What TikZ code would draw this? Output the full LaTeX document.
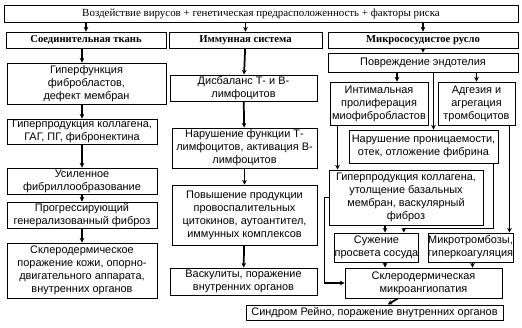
\documentclass[tikz,border=0pt]{standalone}
\usepackage{fontspec}
\setmainfont{Liberation Serif}
\newfontfamily\arialfont{Liberation Sans}
\usetikzlibrary{arrows.meta}

\begin{document}
\begin{tikzpicture}[x=0.75pt, y=-0.75pt,
  box/.style={draw, line width=0.7pt, inner sep=0pt, align=center,
              font=\arialfont\fontsize{8.2}{9.75}\selectfont},
  head/.style={draw, line width=0.7pt, inner sep=0pt,
               font=\bfseries\fontsize{8}{9.5}\selectfont},
  link/.style={-{Stealth[length=3.5pt, width=3.5pt]}, line width=1.3pt}]

  \useasboundingbox (0,0) rectangle (522,328);

  % ── common cause and the three headers ───────────────────────────────────

  \node[head, font=\fontsize{8.2}{9.5}\selectfont,
        minimum width=385.5pt, minimum height=12.75pt] (cause) at (261, 13.5)
    {Воздействие вирусов + генетическая предрасположенность + факторы риска};

  \node[head, minimum width=120pt, minimum height=12pt] (tissue) at (86, 40)
    {Соединительная ткань};
  \node[head, minimum width=114.75pt, minimum height=12pt] (immune) at (245.5, 40)
    {Иммунная система};
  \node[head, minimum width=142.5pt, minimum height=12pt] (micro) at (423, 40)
    {Микрососудистое русло};

  \draw[link] (cause.south -| tissue.north) -- (tissue.north);
  \draw[link] (cause.south -| immune.north) -- (immune.north);
  \draw[link] (cause.south -| micro.north) -- (micro.north);

  % ── connective tissue column ─────────────────────────────────────────────

  \node[box, minimum width=119.25pt, minimum height=30.75pt] (fibro) at (86.5, 83.5)
    {Гиперфункция\\фибробластов,\\дефект мембран};
  \node[box, minimum width=112.5pt, minimum height=18.75pt] (collagen) at (82, 131.5)
    {Гиперпродукция коллагена,\\ГАГ, ПГ, фибронектина};
  \node[box, minimum width=112.5pt, minimum height=19.5pt] (fibril) at (82, 181)
    {Усиленное\\фибриллообразование};
  \node[box, minimum width=112.5pt, minimum height=19.5pt] (fibrosis) at (82, 215)
    {Прогрессирующий\\генерализованный фиброз};
  \node[box, minimum width=112.5pt, minimum height=41.25pt] (skin) at (82, 270.5)
    {Склеродермическое\\поражение кожи, опорно-\\двигательного аппарата,\\внутренних органов};

  \draw[link] (tissue.south -| collagen.north) -- (fibro.north -| collagen.north);
  \draw[link] (fibro.south -| collagen.north) -- (collagen.north);
  \draw[link] (collagen) -- (fibril);
  \draw[link] (fibril) -- (fibrosis);
  \draw[link] (fibrosis) -- (skin);

  % ── immune system column ─────────────────────────────────────────────────

  \node[box, minimum width=110.25pt, minimum height=19.5pt] (imbal) at (243.5, 88)
    {Дисбаланс Т- и В-\\лимфоцитов};
  \node[box, minimum width=108.75pt, minimum height=30pt] (tcell) at (244.5, 148)
    {Нарушение функции Т-\\лимфоцитов, активация В-\\лимфоцитов};
  \node[box, minimum width=108.75pt, minimum height=45pt] (cyto) at (244.5, 215)
    {Повышение продукции\\провоспалительных\\цитокинов, аутоантител,\\иммунных комплексов};
  \node[box, minimum width=110.25pt, minimum height=20.25pt] (vascul) at (243.5, 281.5)
    {Васкулиты, поражение\\внутренних органов};

  \draw[link] (immune) -- (imbal);
  \draw[link] (imbal) -- (tcell);
  \draw[link] (tcell) -- (cyto);
  \draw[link] (cyto) -- (vascul);

  % ── microvascular column ─────────────────────────────────────────────────

  \node[box, minimum width=142.5pt, minimum height=14.25pt] (endo) at (423, 62.5)
    {Повреждение эндотелия};
  \node[box, minimum width=73.5pt, minimum height=32.25pt] (intima) at (379, 103.5)
    {Интимальная\\пролиферация\\миофибробластов};
  \node[box, minimum width=57.75pt, minimum height=32.25pt] (platelet) at (476.5, 103.5)
    {Адгезия и\\агрегация\\тромбоцитов};
  \node[box, minimum width=111.75pt, minimum height=24.75pt] (perm) at (423.5, 146.5)
    {Нарушение проницаемости,\\отек, отложение фибрина};
  \node[box, minimum width=115.5pt, minimum height=41.25pt] (thick) at (406, 197.5)
    {Гиперпродукция коллагена,\\утолщение базальных\\мембран, васкулярный\\фиброз};
  \node[box, minimum width=62.25pt, minimum height=21.75pt] (narrow) at (376.5, 247.5)
    {Сужение\\просвета сосуда};
  \node[box, minimum width=63.75pt, minimum height=21.75pt] (thromb) at (470.5, 247.5)
    {Микротромбозы,\\гиперкоагуляция};
  \node[box, minimum width=117.75pt, minimum height=22.5pt] (angio) at (423.5, 283)
    {Склеродермическая\\микроангиопатия};
  \node[box, minimum width=192.75pt, minimum height=11.25pt] (raynaud) at (374.5, 312.5)
    {Синдром Рейно, поражение внутренних органов};

  \draw[link] (micro) -- (endo);
  \draw[link] ([xshift=13.5pt]intima.north |- endo.south) -- ([xshift=13.5pt]intima.north);
  \draw[link] (endo.south -| platelet.north) -- (platelet.north);
  \draw[link] ([xshift=7.5pt]perm.north |- endo.south) -- ([xshift=7.5pt]perm.north);
  \draw[link] ([xshift=6pt]intima.south west) -- ([xshift=6pt]intima.south west |- thick.north);
  \draw[link] ([xshift=-4.5pt]platelet.south east) -- ([xshift=-4.5pt]platelet.south east |- thromb.north);
  \draw[link] ([xshift=-3.75pt]perm.south east) -- ++(0,65) -| ([xshift=-11.25pt]narrow.north east);
  \draw[link] ([xshift=6.4pt]narrow.north |- thick.south) -- ([xshift=6.4pt]narrow.north);
  \draw[link] (thick.west) -- ++(-4,0) |- (angio.west);
  \draw[link] ([xshift=6.4pt]narrow.south) -- ([xshift=6.4pt]narrow.south |- angio.north);
  \draw[link] ([xshift=1.5pt]thromb.south) -- ([xshift=1.5pt]thromb.south |- angio.north);
  \draw[link] (angio) -- (raynaud);

\end{tikzpicture}
\end{document}
